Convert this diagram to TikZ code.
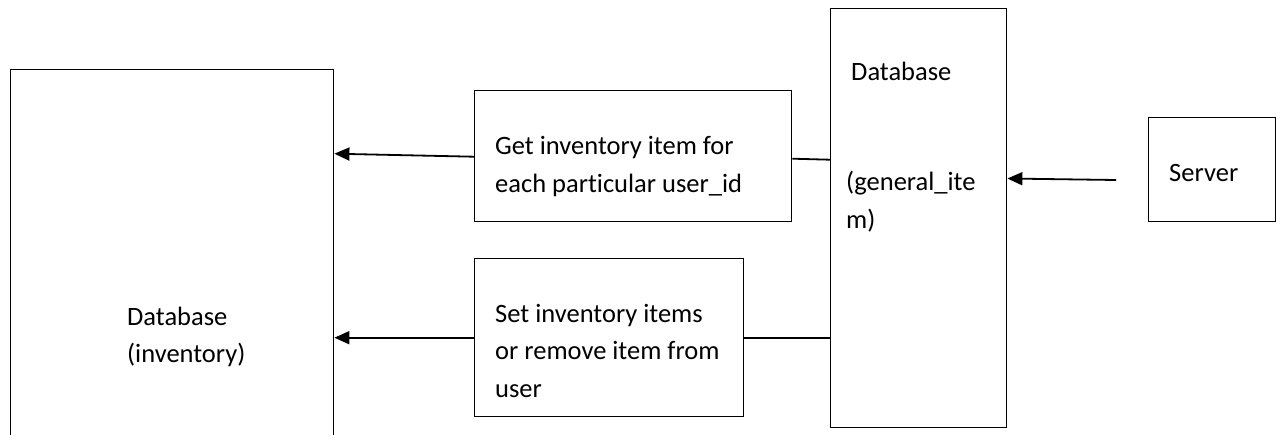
\documentclass[tikz,border=0pt]{standalone}
\usepackage{fontspec}
\setmainfont[Ligatures=NoCommon]{Carlito}
\usetikzlibrary{arrows.meta}
\begin{document}
\begin{tikzpicture}[x=1pt,y=-1pt,
  box/.style={draw,line width=1.4pt,inner sep=0pt,anchor=north west},
  lbl/.style={anchor=base west,inner sep=0pt,font=\fontsize{26.5}{37.7}\selectfont},
  conn/.style={line width=1.8pt},
  arr/.style={conn,-{Triangle[length=15pt,width=13pt]}}]
\useasboundingbox (0,0) rectangle (1276,434);
% boxes
\node[box,minimum width=323pt,minimum height=385pt] (inv) at (10,69) {};
\node[box,minimum width=317pt,minimum height=131pt] (get) at (474,90) {};
\node[box,minimum width=269pt,minimum height=158pt] (set) at (474,258) {};
\node[box,minimum width=176pt,minimum height=419pt] (gen) at (830,8) {};
\node[box,minimum width=127pt,minimum height=104pt] (srv) at (1148,117) {};
% texts
\node[lbl] (invA) at (127,325) {Database};
\node[lbl] (invB) at (127,362) {(inventory)};
\node[lbl] (getA) at (495,154) {Get inventory item for};
\node[lbl] (getB) at (495,192) {each particular user\_id};
\node[lbl] (setA) at (495,322) {Set inventory items};
\node[lbl] (setB) at (495,359) {or remove item from};
\node[lbl] (setC) at (495,397) {user};
\node[lbl] (genA) at (851,80) {Database};
\node[lbl] (genB) at (846,190) {(general\_ite};
\node[lbl] (genC) at (846,228) {m)};
\node[lbl] (srvA) at (1169,181) {Server};
% connectors
\draw[arr] ([yshift=-0.5pt]get.west) -- ([yshift=2.5pt]inv.east |- get.west);
\draw[conn] ([yshift=-2.5pt]get.east) -- ([yshift=-3.5pt]gen.west |- get.east);
\draw[arr] (set.west) -- (inv.east |- set.west);
\draw[conn] (set.east) -- (gen.west |- set.east);
\coordinate (srvfree) at (1116,180);
\draw[arr] (srvfree) -- ([yshift=1.5pt]gen.east |- srvfree);
\end{tikzpicture}
\end{document}
